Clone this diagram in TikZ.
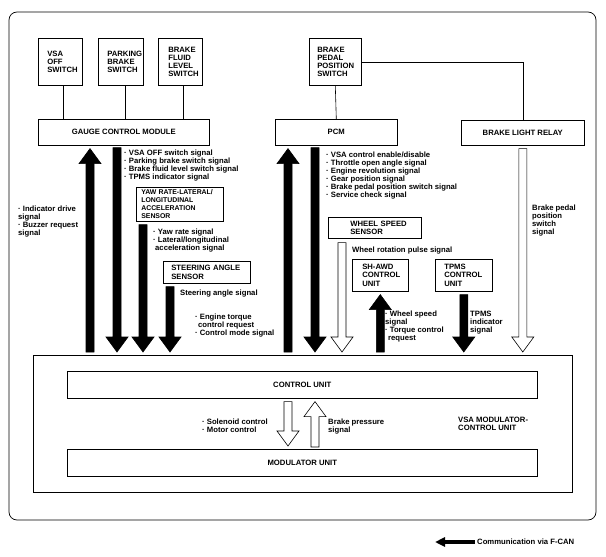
\documentclass[tikz,border=0pt]{standalone}
\usepackage{fontspec}
\setmainfont{Liberation Sans}
\usetikzlibrary{positioning,arrows.meta,calc}
\newcommand{\lbl}{\fontsize{7.7}{8.1}\selectfont\bfseries\hyphenpenalty=10000\exhyphenpenalty=10000}
\newcommand{\bul}{·\ }
\newcommand{\bigarrow}[3][black]{%
  \path (#2) coordinate (tl) (#3) coordinate (tp) ($(tp)!15pt!(tl)$) coordinate (hb);
  \draw[line width=0.6pt,fill=#1] ($(tl)!4pt!90:(hb)$) -- ($(hb)!4pt!-90:(tl)$)
    -- ($(hb)!11pt!-90:(tl)$) -- (tp) -- ($(hb)!11pt!90:(tl)$)
    -- ($(hb)!4pt!90:(tl)$) -- ($(tl)!4pt!-90:(hb)$) -- cycle;}

\begin{document}
\begin{tikzpicture}[>=Latex,x=1pt,y=-1pt,
  unit/.style={draw,line width=0.6pt,anchor=north west,align=left,inner ysep=0pt,font=\lbl},
  wide/.style={draw,line width=0.6pt,anchor=north west,align=center,inner sep=0pt,font=\lbl},
  sig/.style={anchor=north west,align=left,inner sep=0pt,font=\lbl}]
  \useasboundingbox (0,0) rectangle (606,557);
  \draw[line width=0.7pt,rounded corners=8pt] (9,12) rectangle (596,520);

  \node[unit,text width=26pt,inner xsep=9pt,minimum height=47pt] (vsaoff) at (38,38) {VSA\\OFF\\SWITCH};
  \node[unit,text width=27pt,inner xsep=9pt,minimum height=47pt] (parking) at (98,38) {PARKING\\BRAKE\\SWITCH};
  \node[unit,text width=24pt,inner xsep=10pt,minimum height=47pt] (fluid) at (158,38) {BRAKE\\FLUID\\LEVEL\\SWITCH};
  \node[unit,text width=36pt,inner xsep=8pt,minimum height=47pt] (bpps) at (309,38) {BRAKE\\PEDAL\\POSITION\\SWITCH};

  \node[wide,minimum width=171pt,minimum height=26pt] (gcm) at (38,119) {GAUGE CONTROL MODULE};
  \node[wide,minimum width=122pt,minimum height=26pt] (pcm) at (275,119) {PCM};
  \node[wide,minimum width=123pt,minimum height=25pt] (relay) at (461,120) {BRAKE LIGHT RELAY};

  \draw[line width=0.6pt] ([xshift=3pt]vsaoff.south) -- ([xshift=3pt]vsaoff.south |- gcm.north);
  \draw[line width=0.6pt] ([xshift=4pt]parking.south) -- ([xshift=4pt]parking.south |- gcm.north);
  \draw[line width=0.6pt] ([xshift=3pt]fluid.south) -- ([xshift=3pt]fluid.south |- gcm.north);
  \draw[line width=0.6pt] (bpps.south) -- (pcm.north);
  \draw[line width=0.6pt] (bpps.east) -| (relay.north);

  \node[unit,text width=77pt,inner xsep=5pt,minimum height=34pt,font=\lbl\fontsize{6.9}{8.1}\selectfont] (yaw) at (136,187)
    {\mbox{YAW RATE-LATERAL/}\\LONGITUDINAL\\ACCELERATION\\SENSOR};
  \node[unit,text width=71pt,inner xsep=8pt,minimum height=22pt] (steer) at (163,261) {\mbox{STEERING ANGLE}\\SENSOR};
  \node[unit,text width=49pt,inner xsep=22pt,minimum height=21pt] (wss) at (328,217) {\mbox{WHEEL SPEED}\\SENSOR};
  \node[unit,text width=36pt,inner xsep=10pt,minimum height=32pt] (shawd) at (352,259) {SH-AWD\\CONTROL\\UNIT};
  \node[unit,text width=39pt,inner xsep=9pt,minimum height=32pt] (tpms) at (435,259) {TPMS\\CONTROL\\UNIT};

  \node[draw,line width=0.6pt,anchor=north west,minimum width=539pt,minimum height=137pt,inner sep=0pt] (vsamod) at (33,355) {};
  \node[wide,minimum width=470pt,minimum height=27pt] (cu) at (67,371) {CONTROL UNIT};
  \node[wide,minimum width=470pt,minimum height=27pt] (mu) at (67,449) {MODULATOR UNIT};

  \coordinate (ca) at (90,0);
  \coordinate (cb) at (117,0);
  \coordinate (cc) at (143,0);
  \coordinate (cd) at (170,0);
  \coordinate (ce) at (288,0);
  \coordinate (cf) at (315,0);
  \coordinate (cg) at (342,0);

  \bigarrow{$(ca |- vsamod.north)+(0,-3)$}{$(ca |- gcm.south)+(0,3)$}
  \bigarrow{$(cb |- gcm.south)+(0,2)$}{$(cb |- vsamod.north)+(0,-3)$}
  \bigarrow{$(cc |- yaw.south)+(0,3)$}{$(cc |- vsamod.north)+(0,-3)$}
  \bigarrow{$(cd |- steer.south)+(0,3)$}{$(cd |- vsamod.north)+(0,-3)$}
  \bigarrow{$(ce |- vsamod.north)+(0,-3)$}{$(ce |- pcm.south)+(0,3)$}
  \bigarrow{$(cf |- pcm.south)+(0,2)$}{$(cf |- vsamod.north)+(0,-3)$}
  \bigarrow[white]{$(cg |- wss.south)+(0,4)$}{$(cg |- vsamod.north)+(0,-3)$}
  \bigarrow{$(shawd.south |- vsamod.north)+(0,-3)$}{$(shawd.south)+(0,3)$}
  \bigarrow{$(tpms.south)+(0,3)$}{$(tpms.south |- vsamod.north)+(0,-3)$}
  \bigarrow[white]{$(relay.south)+(0,3)$}{$(relay.south |- vsamod.north)+(0,-3)$}
  \bigarrow[white]{$(ce |- cu.south)+(0,3)$}{$(ce |- mu.north)+(0,-3)$}
  \bigarrow[white]{$(cf |- mu.north)+(0,-2)$}{$(cf |- cu.south)+(0,3)$}

  \node[sig] (gcmsig) at (124,149.5) {\bul VSA OFF switch signal\\\bul Parking brake switch signal\\\bul Brake fluid level switch signal\\\bul TPMS indicator signal};
  \node[sig] (drivesig) at (18,205.5) {\bul Indicator drive\\signal\\\bul Buzzer request\\signal};
  \node[sig] (yawsig) at (153,228.5) {\bul Yaw rate signal\\\bul Lateral/longitudinal\\\hspace*{2pt}acceleration signal};
  \node[sig] (steersig) at (180,289.5) {Steering angle signal};
  \node[sig] (torquesig) at (195,313.5) {\bul Engine torque\\\hspace*{3pt}control request\\\bul Control mode signal};
  \node[sig] (pcmsig) at (326,151.5) {\bul VSA control enable/disable\\\bul Throttle open angle signal\\\bul Engine revolution signal\\\bul Gear position signal\\\bul Brake pedal position switch signal\\\bul Service check signal};
  \node[sig] (pulsesig) at (352,246.5) {Wheel rotation pulse signal};
  \node[sig] (wheelsig) at (385,310.5) {\bul Wheel speed\\signal\\\bul Torque control\\\hspace*{3pt}request};
  \node[sig] (tpmssig) at (470,310.5) {TPMS\\indicator\\signal};
  \node[sig] (pedalsig) at (532,204.5) {Brake pedal\\position\\switch\\signal};
  \node[sig] (solsig) at (202,418.5) {\bul Solenoid control\\\bul Motor control};
  \node[sig] (pressig) at (328,418.5) {Brake pressure\\signal};
  \node[sig] (modlbl) at (458,416.5) {VSA MODULATOR-\\CONTROL UNIT};

  \node[sig,anchor=west] (legtxt) at (477,542) {Communication via F-CAN};
  \coordinate (legtip) at (435,542);
  \draw[line width=4pt,-{Triangle[length=10pt,width=9pt]}] ([xshift=-2pt]legtxt.west) -- (legtip);
\end{tikzpicture}
\end{document}
